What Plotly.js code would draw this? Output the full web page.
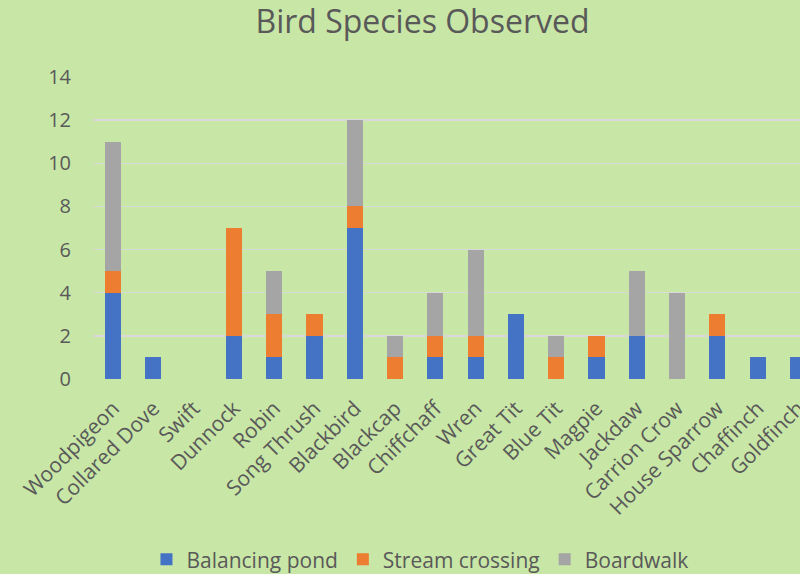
<!DOCTYPE html>
<html>
<head>
<meta charset="utf-8">
<script src="https://cdn.plot.ly/plotly-3.0.1.min.js"></script>
<style>
html,body{margin:0;padding:0;overflow:hidden;background:#c8e6a6;width:800px;height:574px;}
#chart{width:845px;height:574px;}
</style>
</head>
<body>
<div id="chart"></div>
<script>
const categories = ["Woodpigeon","Collared Dove","Swift","Dunnock","Robin","Song Thrush","Blackbird","Blackcap","Chiffchaff","Wren","Great Tit","Blue Tit","Magpie","Jackdaw","Carrion Crow","House Sparrow","Chaffinch","Goldfinch"];
const balancingPond = [4,1,0,2,1,2,7,0,1,1,3,0,1,2,0,2,1,1];
const streamCrossing = [1,0,0,5,2,1,1,1,1,1,0,1,1,0,0,1,0,0];
const boardwalk = [6,0,0,0,2,0,4,1,2,4,0,1,0,3,4,0,0,0];
const yTicks = [0,2,4,6,8,10,12,14];

const font = "'Open Sans', 'Noto Sans', sans-serif";
const txt = "#595959";
function tr(name, y, color){
  return {type:'bar', name:name, x:categories, y:y,
    marker:{color:color, line:{width:0}}};
}
const data = [
  tr("Balancing pond", balancingPond, "#4472c4"),
  tr("Stream crossing", streamCrossing, "#ed7d31"),
  tr("Boardwalk", boardwalk, "#a5a5a5")
];
const layout = {
  width:845, height:574,
  paper_bgcolor:"#c8e6a6", plot_bgcolor:"#c8e6a6",
  barmode:'stack', bargap:0.6,
  margin:{l:93, r:27, t:77, b:195},
  font:{family:font, color:txt},
  title:{text:"Bird Species Observed", font:{size:32, color:txt, family:font}, x:0.5, xref:'container', y:0.962, yref:'container', yanchor:'middle'},
  xaxis:{type:'category', tickangle:-45, tickfont:{size:21, color:txt}, showgrid:false, zeroline:false, showline:false, ticks:'', ticklabelstandoff:12, automargin:false},
  yaxis:{range:[0,14], tickvals:yTicks, tickfont:{size:20, color:txt}, gridcolor:"#d9d9d9", gridwidth:1.5, zeroline:false, showline:false, ticks:'', ticklabelstandoff:21, automargin:false},
  showlegend:true,
  legend:{orientation:'h', xref:'container', yref:'container', x:0.497, xanchor:'center', y:0.025, yanchor:'middle', font:{size:21, color:txt}, traceorder:'normal', itemwidth:30}
};
Plotly.newPlot('chart', data, layout, {displayModeBar:false, staticPlot:true});
</script>
</body>
</html>
